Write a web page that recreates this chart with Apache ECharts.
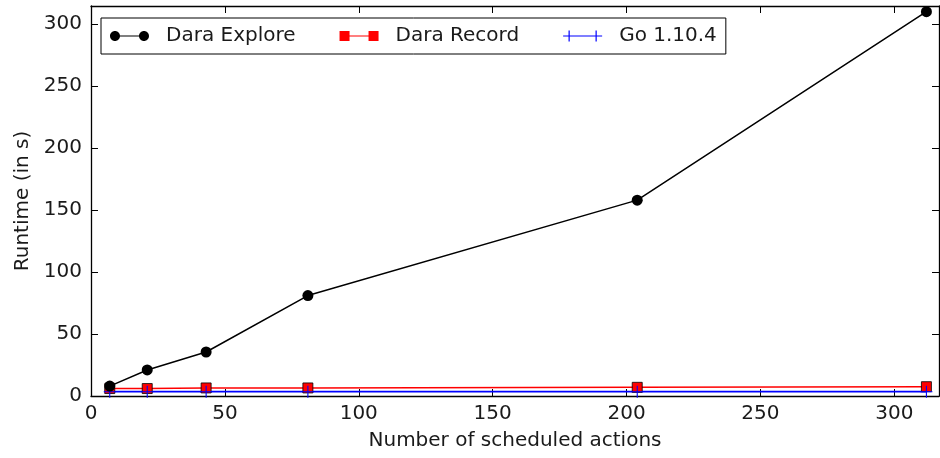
<!DOCTYPE html>
<html>
<head>
<meta charset="utf-8">
<script src="https://cdn.jsdelivr.net/npm/echarts@6/dist/echarts.min.js"></script>
<style>html,body{margin:0;padding:0;background:#fff}#c{width:940px;height:458px}</style>
</head>
<body>
<div id="c"></div>
<script>
const actions = [7, 21, 43, 81, 204, 312];
const daraExplore = [8, 21, 35.5, 81, 158, 310];
const daraRecord = [6, 6, 6.5, 6.5, 7, 7.5];
const go1104 = [3.5, 3.5, 3.5, 3.5, 3.5, 3.5];
const xTicks = [0, 50, 100, 150, 200, 250, 300];
const yTicks = [0, 50, 100, 150, 200, 250, 300];
const xMax = 316.7, yMax = 314.6;

const FONT = 'DejaVu Sans';
const FS = 20;
const TXT = '#1a1a1a';
const pairs = (xs, ys) => xs.map((x, i) => [x, ys[i]]);
const plusPath = 'path://M0,5.5h11v1h-11zM5,0h1v12h-1z';

function circ(cx, cy, r) {
  const k = 0.5523 * r;
  return 'M' + (cx - r) + ',' + cy +
    'C' + (cx - r) + ',' + (cy - k) + ' ' + (cx - k) + ',' + (cy - r) + ' ' + cx + ',' + (cy - r) +
    'C' + (cx + k) + ',' + (cy - r) + ' ' + (cx + r) + ',' + (cy - k) + ' ' + (cx + r) + ',' + cy +
    'C' + (cx + r) + ',' + (cy + k) + ' ' + (cx + k) + ',' + (cy + r) + ' ' + cx + ',' + (cy + r) +
    'C' + (cx - k) + ',' + (cy + r) + ' ' + (cx - r) + ',' + (cy + k) + ' ' + (cx - r) + ',' + cy + 'Z';
}
const iconExplore = 'path://' + circ(5, 5, 5) + circ(34, 5, 5) + 'M5,4.4h29v1.2h-29z';
const iconRecord = 'path://M0,0h10v10h-10zM29,0h10v10h-10zM10,4.4h19v1.2h-19z';
const iconGo = 'path://M0,4.9h39v1.2h-39zM5.4,0h1.2v11h-1.2zM32.4,0h1.2v11h-1.2z';

const tickLabel = {fontFamily: FONT, fontSize: FS, color: TXT};
const baseX = {
  type: 'value', min: 0, max: xMax, interval: 50,
  splitLine: {show: false},
  axisLine: {show: true, onZero: false, lineStyle: {color: '#000', width: 1.3}},
  axisTick: {show: true, inside: true, length: 7, lineStyle: {color: '#000', width: 1}}
};
const baseY = {
  type: 'value', min: 0, max: yMax, interval: 50,
  splitLine: {show: false},
  axisLine: {show: true, onZero: false, lineStyle: {color: '#000', width: 1.3}},
  axisTick: {show: true, inside: true, length: 7, lineStyle: {color: '#000', width: 1}}
};

const chart = echarts.init(document.getElementById('c'), null, {renderer: 'canvas'});
chart.setOption({
  animation: false,
  backgroundColor: '#fff',
  grid: {left: 91, right: 1, top: 6, bottom: 62, containLabel: false},
  legend: {
    left: 101, top: 18,
    orient: 'horizontal',
    backgroundColor: '#fff',
    borderColor: '#000', borderWidth: 1, borderRadius: 0,
    padding: [8, 9, 8, 9],
    itemGap: 44,
    itemWidth: 39, itemHeight: 11,
    textStyle: {fontFamily: FONT, fontSize: FS, color: TXT, padding: [0, 0, 0, 12]},
    data: [
      {name: 'Dara Explore', icon: iconExplore, itemStyle: {color: '#000', borderWidth: 0}},
      {name: 'Dara Record', icon: iconRecord, itemStyle: {color: '#ff0000', borderWidth: 0}},
      {name: 'Go 1.10.4', icon: iconGo, itemStyle: {color: '#0000ff', borderWidth: 0}}
    ]
  },
  xAxis: [
    Object.assign({}, baseX, {
      position: 'bottom',
      axisLabel: Object.assign({}, tickLabel, {margin: 8, showMaxLabel: false,
        formatter: v => (xTicks.indexOf(v) >= 0 ? String(v) : '')}),
      name: 'Number of scheduled actions', nameLocation: 'middle', nameGap: 35,
      nameTextStyle: {fontFamily: FONT, fontSize: FS, color: TXT}
    }),
    Object.assign({}, baseX, {position: 'top', axisLabel: {show: false}})
  ],
  yAxis: [
    Object.assign({}, baseY, {
      position: 'left',
      axisLabel: Object.assign({}, tickLabel, {margin: 9, showMaxLabel: false,
        formatter: v => (yTicks.indexOf(v) >= 0 ? String(v) : '')}),
      name: 'Runtime (in s)', nameLocation: 'middle', nameGap: 58,
      nameTextStyle: {fontFamily: FONT, fontSize: FS, color: TXT}
    }),
    Object.assign({}, baseY, {position: 'right', axisLabel: {show: false}})
  ],
  series: [
    {
      name: 'Dara Explore', type: 'line', xAxisIndex: 0, yAxisIndex: 0,
      data: pairs(actions, daraExplore),
      symbol: 'circle', symbolSize: 11,
      itemStyle: {color: '#000'},
      lineStyle: {color: '#000', width: 1.5},
      z: 4
    },
    {
      name: 'Dara Record', type: 'line', xAxisIndex: 0, yAxisIndex: 0,
      data: pairs(actions, daraRecord),
      symbol: 'rect', symbolSize: 10,
      itemStyle: {color: '#ff0000', borderColor: '#000', borderWidth: 0.8},
      lineStyle: {color: '#ff0000', width: 1.6},
      z: 3
    },
    {
      name: 'Go 1.10.4', type: 'line', xAxisIndex: 0, yAxisIndex: 0,
      data: pairs(actions, go1104),
      symbol: plusPath, symbolSize: [12, 12],
      itemStyle: {color: '#0000ff'},
      lineStyle: {color: '#0000ff', width: 1.6},
      z: 3
    }
  ]
});
</script>
</body>
</html>
